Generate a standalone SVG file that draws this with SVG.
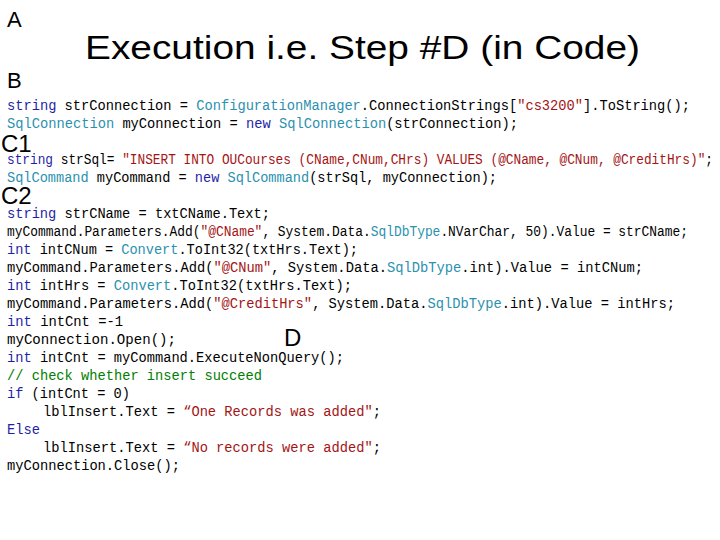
<svg xmlns="http://www.w3.org/2000/svg" width="720" height="540" viewBox="0 0 720 540">
<style>
.c{font-family:"Liberation Mono","DejaVu Sans Mono",monospace;font-size:14px;fill:#000}
.k{fill:#1f1fa8}.t{fill:#2b91af}.s{fill:#a31515}.g{fill:#008000}
.l{font-family:"Liberation Sans",Arial,sans-serif;fill:#000}
</style>
<rect width="720" height="540" fill="#fff"/>
<text class="l" x="7" y="27" font-size="22">A</text>
<text class="l" x="7" y="88" font-size="22">B</text>
<text class="l" x="85" y="59" font-size="34" textLength="555" lengthAdjust="spacingAndGlyphs">Execution i.e. Step #D (in Code)</text>
<text class="l" x="1" y="152" font-size="24">C1</text>
<text class="l" x="1" y="204" font-size="24">C2</text>
<text class="l" x="284" y="346" font-size="24">D</text>
<g id="code" xml:space="preserve">
<text class="c" x="7" y="110" textLength="683" lengthAdjust="spacingAndGlyphs"><tspan class="k">string</tspan> strConnection = <tspan class="t">ConfigurationManager</tspan>.ConnectionStrings[<tspan class="s">"cs3200"</tspan>].ToString();</text>
<text class="c" x="7" y="128" textLength="511" lengthAdjust="spacingAndGlyphs"><tspan class="t">SqlConnection</tspan> myConnection = <tspan class="k">new</tspan> <tspan class="t">SqlConnection</tspan>(strConnection);</text>
<text class="c" x="7" y="164" textLength="706" lengthAdjust="spacingAndGlyphs"><tspan class="k">string</tspan> strSql= <tspan class="s">"INSERT INTO OUCourses (CName,CNum,CHrs) VALUES (@CName, @CNum, @CreditHrs)"</tspan>;</text>
<text class="c" x="7" y="182" textLength="490" lengthAdjust="spacingAndGlyphs"><tspan class="t">SqlCommand</tspan> myCommand = <tspan class="k">new</tspan> <tspan class="t">SqlCommand</tspan>(strSql, myConnection);</text>
<text class="c" x="7" y="218" textLength="263" lengthAdjust="spacingAndGlyphs"><tspan class="k">string</tspan> strCName = txtCName.Text;</text>
<text class="c" x="7" y="236" textLength="681" lengthAdjust="spacingAndGlyphs">myCommand.Parameters.Add(<tspan class="s">"@CName"</tspan>, System.Data.<tspan class="t">SqlDbType</tspan>.NVarChar, 50).Value = strCName;</text>
<text class="c" x="7" y="254" textLength="351" lengthAdjust="spacingAndGlyphs"><tspan class="k">int</tspan> intCNum = <tspan class="t">Convert</tspan>.ToInt32(txtHrs.Text);</text>
<text class="c" x="7" y="272" textLength="636" lengthAdjust="spacingAndGlyphs">myCommand.Parameters.Add(<tspan class="s">"@CNum"</tspan>, System.Data.<tspan class="t">SqlDbType</tspan>.int).Value = intCNum;</text>
<text class="c" x="7" y="290" textLength="345" lengthAdjust="spacingAndGlyphs"><tspan class="k">int</tspan> intHrs = <tspan class="t">Convert</tspan>.ToInt32(txtHrs.Text);</text>
<text class="c" x="7" y="308" textLength="668" lengthAdjust="spacingAndGlyphs">myCommand.Parameters.Add(<tspan class="s">"@CreditHrs"</tspan>, System.Data.<tspan class="t">SqlDbType</tspan>.int).Value = intHrs;</text>
<text class="c" x="7" y="326" textLength="116" lengthAdjust="spacingAndGlyphs"><tspan class="k">int</tspan> intCnt =-1</text>
<text class="c" x="7" y="344" textLength="169" lengthAdjust="spacingAndGlyphs">myConnection.Open();</text>
<text class="c" x="7" y="362" textLength="337" lengthAdjust="spacingAndGlyphs"><tspan class="k">int</tspan> intCnt = myCommand.ExecuteNonQuery();</text>
<text class="c g" x="7" y="380" textLength="255" lengthAdjust="spacingAndGlyphs">// check whether insert succeed</text>
<text class="c" x="7" y="398" textLength="123" lengthAdjust="spacingAndGlyphs"><tspan class="k">if</tspan> (intCnt = 0)</text>
<text class="c" x="43" y="416" textLength="338" lengthAdjust="spacingAndGlyphs">lblInsert.Text = <tspan class="s">“One Records was added"</tspan>;</text>
<text class="c k" x="7" y="434" textLength="33" lengthAdjust="spacingAndGlyphs">Else</text>
<text class="c" x="43" y="452" textLength="338" lengthAdjust="spacingAndGlyphs">lblInsert.Text = <tspan class="s">“No records were added"</tspan>;</text>
<text class="c" x="7" y="470" textLength="173" lengthAdjust="spacingAndGlyphs">myConnection.Close();</text>
</g>
</svg>
